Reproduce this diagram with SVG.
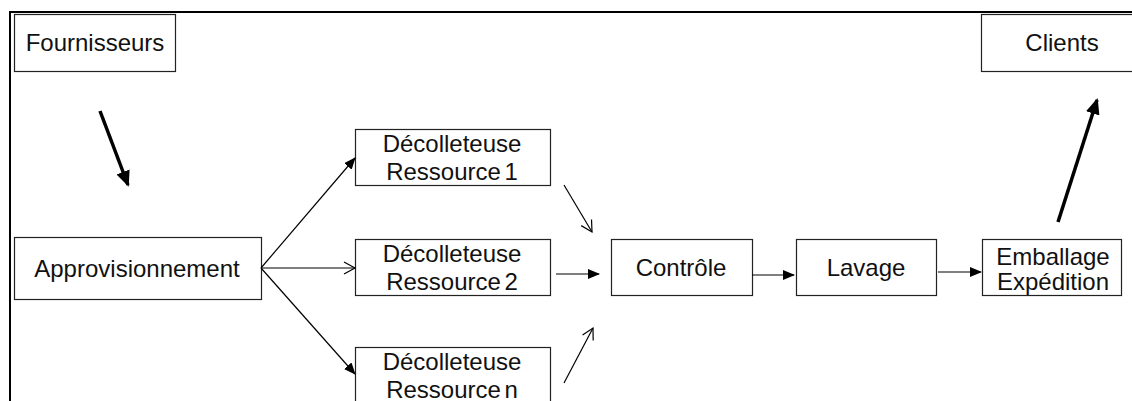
<svg xmlns="http://www.w3.org/2000/svg" width="1132" height="401" viewBox="0 0 1132 401">
<style>
.box{fill:#fff;stroke:#222;stroke-width:1.2}
.t{font-family:"Liberation Sans",Arial,sans-serif;font-size:24px;fill:#111;text-anchor:middle}
.ws{word-spacing:-3px}
.c{stroke:#000;stroke-width:1.2;fill:none}
.k{stroke:#000;stroke-width:3.5;fill:none}
</style>
<defs>
<marker id="fa" markerUnits="userSpaceOnUse" markerWidth="12" markerHeight="10" refX="11" refY="5" orient="auto"><path d="M0,0 L12,5 L0,10 z" fill="#000"/></marker>
<marker id="oa" markerUnits="userSpaceOnUse" markerWidth="14" markerHeight="14" refX="12" refY="7" orient="auto"><path d="M1,1 L12,7 L1,13" fill="none" stroke="#000" stroke-width="1.2"/></marker>
<marker id="ka" markerUnits="userSpaceOnUse" markerWidth="16" markerHeight="14" refX="14" refY="7" orient="auto"><path d="M0,0 L16,7 L0,14 z" fill="#000"/></marker>
</defs>
<rect width="1132" height="401" fill="#fff"/>
<g id="frame"><path d="M10,401 V12 H1132" fill="none" stroke="#000" stroke-width="2"/></g>
<g id="fournisseurs"><rect class="box" x="14.5" y="14.5" width="161" height="57"/><text class="t" x="95" y="51">Fournisseurs</text></g>
<g id="clients"><rect class="box" x="981.5" y="14.5" width="160" height="57"/><text class="t" x="1062" y="51">Clients</text></g>
<g id="approvisionnement"><rect class="box" x="14.5" y="237.5" width="247" height="62"/><text class="t" x="137" y="277">Approvisionnement</text></g>
<g id="decolleteuse1"><rect class="box" x="355.5" y="129.5" width="195" height="56"/><text class="t" x="452" y="152">Décolleteuse</text><text class="t ws" x="452" y="180">Ressource 1</text></g>
<g id="decolleteuse2"><rect class="box" x="355.5" y="239.5" width="195" height="56"/><text class="t" x="452" y="262">Décolleteuse</text><text class="t ws" x="452" y="290">Ressource 2</text></g>
<g id="decolleteusen"><rect class="box" x="355.5" y="347.5" width="195" height="60"/><text class="t" x="452" y="370">Décolleteuse</text><text class="t ws" x="452" y="398">Ressource n</text></g>
<g id="controle"><rect class="box" x="611.5" y="239.5" width="141" height="56"/><text class="t" x="681" y="276">Contrôle</text></g>
<g id="lavage"><rect class="box" x="796.5" y="239.5" width="140" height="56"/><text class="t" x="866" y="276">Lavage</text></g>
<g id="emballage"><rect class="box" x="982.5" y="239.5" width="139" height="56"/><text class="t" x="1053" y="265">Emballage</text><text class="t" x="1053" y="290">Expédition</text></g>
<g id="connectors">
<line class="k" x1="100" y1="111" x2="128" y2="185" marker-end="url(#ka)"/>
<line class="k" x1="1058" y1="222" x2="1097" y2="100" marker-end="url(#ka)"/>
<line class="c" x1="261" y1="268" x2="355" y2="158" marker-end="url(#fa)"/>
<line class="c" x1="261" y1="268" x2="355" y2="268" marker-end="url(#oa)"/>
<line class="c" x1="261" y1="268" x2="355" y2="374" marker-end="url(#fa)"/>
<line class="c" x1="564" y1="185" x2="592" y2="232" marker-end="url(#oa)"/>
<line class="c" x1="556" y1="274" x2="599" y2="274" marker-end="url(#fa)"/>
<line class="c" x1="564" y1="383" x2="593" y2="328" marker-end="url(#oa)"/>
<line class="c" x1="752" y1="275" x2="794" y2="275" marker-end="url(#fa)"/>
<line class="c" x1="938" y1="272" x2="981" y2="272" marker-end="url(#fa)"/>
</g>
</svg>
